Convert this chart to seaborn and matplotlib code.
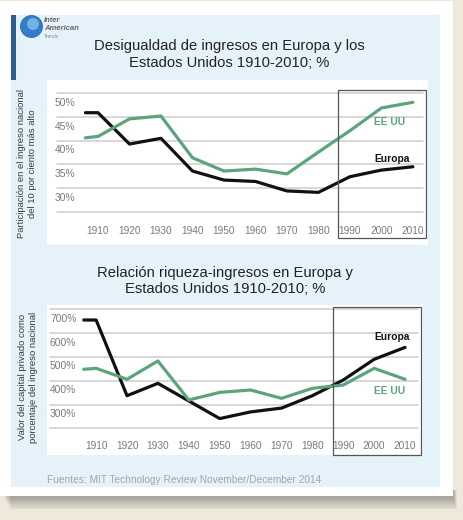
import numpy as np
import pandas as pd
import seaborn as sns
from matplotlib import pyplot as plt
from matplotlib import transforms
from matplotlib.patches import Rectangle, Ellipse

sns.set_theme(style="white")
plt.rcParams['font.family'] = ['Liberation Sans', 'DejaVu Sans']

# ---------------- data ----------------
years = [1906, 1910, 1920, 1930, 1940, 1950, 1960, 1970, 1980, 1990, 2000, 2010]
tick_years = [1910, 1920, 1930, 1940, 1950, 1960, 1970, 1980, 1990, 2000, 2010]
tick_year_labels = [str(y) for y in tick_years]

# top: share of national income of top 10% (%)
ineq_europe = [45.9, 45.9, 39.3, 40.5, 33.6, 31.7, 31.4, 29.4, 29.1, 32.4, 33.8, 34.5]
ineq_us = [40.6, 40.9, 44.6, 45.2, 36.4, 33.6, 34.0, 33.0, 37.6, 42.1, 46.9, 48.1]
ineq_grid = [25, 30, 35, 40, 45, 50]
ineq_ticks = [30, 35, 40, 45, 50]
ineq_ticklabels = ["30%", "35%", "40%", "45%", "50%"]

# bottom: private capital as % of national income
wealth_europe = [655, 655, 337, 389, 315, 241, 269, 285, 337, 403, 490, 540]
wealth_us = [448, 452, 406, 483, 319, 351, 361, 326, 368, 382, 452, 406]
wealth_grid = [200, 300, 400, 500, 600, 700]
wealth_ticks = [300, 400, 500, 600, 700]
wealth_ticklabels = ["300%", "400%", "500%", "600%", "700%"]

series_names = ["Europa", "EE UU"]
palette = {"Europa": "#111111", "EE UU": "#5aa57c"}

df_top = pd.DataFrame({"year": years * 2,
                       "value": ineq_europe + ineq_us,
                       "serie": [series_names[0]] * len(years) + [series_names[1]] * len(years)})
df_bot = pd.DataFrame({"year": years * 2,
                       "value": wealth_europe + wealth_us,
                       "serie": [series_names[0]] * len(years) + [series_names[1]] * len(years)})

# ---------------- figure / background ----------------
W, H = 463, 520
fh = plt.figure(figsize=(W / 100, H / 100), dpi=100, facecolor="#efe9dc")


def fx(px):
    return px / W


def fy(py):
    return 1 - py / H


def frect(x0, y0, x1, y1, **kw):
    r = Rectangle((fx(x0), fy(y1)), fx(x1) - fx(x0), fy(y0) - fy(y1),
                  transform=fh.transFigure, zorder=-10, **kw)
    fh.patches.append(r)


# card shadow + card + blue panel
for k in range(8):
    frect(4 + k, 490, 453 + k * 0.5, 498 + k * 1.6, facecolor="#555555", alpha=0.07, linewidth=0)
frect(0, 1, 453, 496, facecolor="white", linewidth=0)
frect(11, 15, 440, 487, facecolor="#e6f2f9", linewidth=0)
frect(11, 15, 16, 80, facecolor="#2f5d8c", linewidth=0)

# logo
fh.patches.append(Ellipse((fx(31.5), fy(26.5)), 22 / W, 22 / H, transform=fh.transFigure,
                          facecolor="#2f7fc8", edgecolor="#1f5f9f", linewidth=0.5, zorder=-5))
fh.patches.append(Ellipse((fx(33), fy(24)), 12 / W, 12 / H, transform=fh.transFigure,
                          facecolor="#8cc8f0", alpha=0.7, linewidth=0, zorder=-4))
fh.text(fx(44), fy(21), "Inter", fontsize=5.5, style="italic", weight="bold", color="#6a6a6a", va="center")
fh.text(fx(44), fy(28.5), "American", fontsize=5.5, style="italic", weight="bold", color="#6a6a6a", va="center")
fh.text(fx(44), fy(36), "Trends", fontsize=3.5, color="#8a8a8a", va="center")

# titles
fh.text(fx(229.5), fy(54.5), "Desigualdad de ingresos en Europa y los\nEstados Unidos 1910-2010; %",
        ha="center", va="center", fontsize=10.6, color="#222222", linespacing=1.2)
fh.text(fx(225), fy(281), "Relación riqueza-ingresos en Europa y\nEstados Unidos 1910-2010; %",
        ha="center", va="center", fontsize=10.6, color="#222222", linespacing=1.2)

# y labels
fh.text(fx(27), fy(164), "Participación en el ingreso nacional\ndel 10 por ciento más alto",
        rotation=90, ha="center", va="center", fontsize=6.8, color="#3a3a3a", linespacing=1.25)
fh.text(fx(28), fy(377), "Valor del capital privado como\nporcentaje del ingreso nacional",
        rotation=90, ha="center", va="center", fontsize=6.8, color="#3a3a3a", linespacing=1.25)

# source
fh.text(fx(47), fy(480), "Fuentes: MIT Technology Review November/December 2014",
        ha="left", va="center", fontsize=7.3, color="#a5a5a5")


# ---------------- panels ----------------
def panel(rect_px, df, xlim, ylim, grid, gx, ticks, ticklabels, tx, xpad, box, notes):
    x0, y0, x1, y1 = rect_px
    ah = fh.add_axes([fx(x0), fy(y1), fx(x1) - fx(x0), fy(y0) - fy(y1)])
    ah.set_facecolor("white")
    for g in grid:
        ah.axhline(g, xmin=gx[0], xmax=gx[1], color="#cdcdcd", linewidth=1.1, zorder=1)
    sns.lineplot(data=df, x="year", y="value", hue="serie", palette=palette, ax=ah,
                 legend=False, linewidth=2.3, zorder=3)
    ah.set_xlim(xlim)
    ah.set_ylim(ylim)
    for s in ah.spines.values():
        s.set_visible(False)
    ah.set_xlabel("")
    ah.set_ylabel("")
    ah.set_yticks([])
    ah.set_xticks(tick_years)
    ah.set_xticklabels(tick_year_labels)
    ah.tick_params(axis="x", length=0, pad=xpad, labelsize=7.3, labelcolor="#7a7a7a")
    # y labels sit a bit below their grid lines
    tr = transforms.offset_copy(ah.get_yaxis_transform(), fig=fh, x=0, y=-6.9, units="points")
    for v, lab in zip(ticks, ticklabels):
        ah.text(tx, v, lab, transform=tr, ha="left", va="center", fontsize=7.4, color="#7a7a7a")
    ah.add_patch(Rectangle((box[0], box[1]), box[2] - box[0], box[3] - box[1],
                           transform=ah.transAxes, fill=False, edgecolor="#555555",
                           linewidth=0.9, zorder=4, clip_on=False))
    for (nx, ny, txt) in notes:
        ah.text(nx, ny, txt, ha="center", va="center", fontsize=7.4, weight="bold",
                color=palette[txt], zorder=5)
    return ah


ah1 = panel((47, 80, 428, 245), df_top, (1893.8, 2014.8), (18.0, 52.8), ineq_grid,
            (10 / 381, 376 / 381), ineq_ticks, ineq_ticklabels, 8 / 381, -14,
            (0.764, 0.042, 0.995, 0.939),
            [(2002.7, 43.9, "EE UU"), (2003.5, 36.1, "Europa")])

ah2 = panel((47, 305, 423, 455), df_bot, (1894.1, 2015.8), (88, 718), wealth_grid,
            (3 / 376, 371 / 376), wealth_ticks, wealth_ticklabels, 3 / 376, -10.4,
            (0.761, 0.0, 0.995, 0.987),
            [(2005.8, 582, "Europa"), (2005.1, 358, "EE UU")])

fh.savefig("out.png", dpi=100, facecolor=fh.get_facecolor())
